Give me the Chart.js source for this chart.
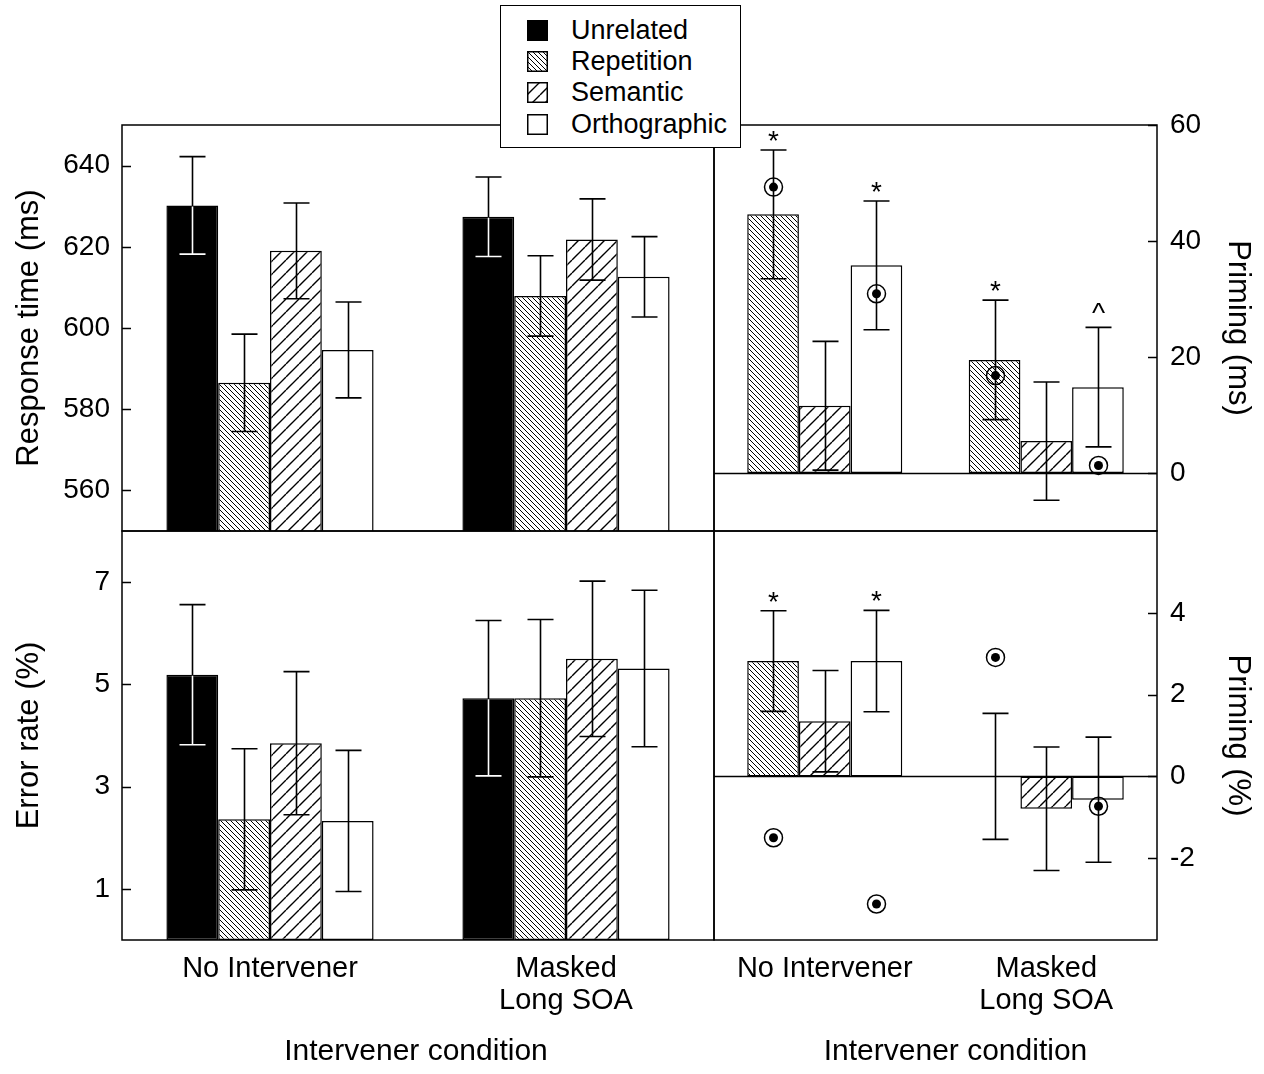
<!DOCTYPE html>
<html>
<head>
<meta charset="utf-8">
<script src="https://cdn.jsdelivr.net/npm/chart.js@4.4.1/dist/chart.umd.min.js"></script>
<style>
  body { margin: 0; background: #fff; }
  #wrap { position: relative; width: 1264px; height: 1074px; }
  #wrap > canvas { position: absolute; left: 0; top: 0; }
  #legend {
    position: absolute; left: 500px; top: 5px; width: 241px; height: 143px;
    box-sizing: border-box; border: 1.5px solid #000; background: #fff; z-index: 5;
    font: 27px "Liberation Sans", Arial, sans-serif; color: #000;
  }
  .row { position: absolute; left: 26px; height: 30px; line-height: 30px; white-space: nowrap; }
  .row canvas { position: absolute; left: 0; top: 5px; }
  .row span { position: absolute; left: 44px; top: 0; }
</style>
</head>
<body>
<div id="wrap">
  <canvas id="rt" width="1264" height="1074"></canvas>
  <canvas id="primMs" width="1264" height="1074"></canvas>
  <canvas id="err" width="1264" height="1074"></canvas>
  <canvas id="primPct" width="1264" height="1074"></canvas>
  <div id="legend"></div>
</div>
<script>
// ---- data ----
const groups = ["No Intervener", ["Masked", "Long SOA"]];
const conditions = ["Unrelated", "Repetition", "Semantic", "Orthographic"];

// response time (ms), top left
const rtUnrelated = [630.2, 627.4];
const rtRepetition = [586.5, 607.9];
const rtSemantic = [619.0, 621.8];
const rtOrthographic = [594.6, 612.6];
const rtErrUnrelated = [12.0, 9.8];
const rtErrRepetition = [12.0, 9.9];
const rtErrSemantic = [11.8, 10.0];
const rtErrOrthographic = [11.8, 9.9];
const rtTicks = [560, 580, 600, 620, 640];

// priming (ms), top right
const pmRepetition = [44.6, 19.5];
const pmSemantic = [11.6, 5.5];
const pmOrthographic = [35.8, 14.8];
const pmErrRepetition = [11.1, 10.3];
const pmErrSemantic = [11.1, 10.2];
const pmErrOrthographic = [11.1, 10.3];
const pmDotRepetition = [49.3, 16.8];
const pmDotOrthographic = [30.9, 1.3];
const pmSigRepetition = ["*", "*"];
const pmSigOrthographic = ["*", "^"];
const pmTicks = [0, 20, 40, 60];

// error rate (%), bottom left
const erUnrelated = [5.19, 4.73];
const erRepetition = [2.36, 4.73];
const erSemantic = [3.85, 5.50];
const erOrthographic = [2.33, 5.31];
const erErrUnrelated = [1.37, 1.52];
const erErrRepetition = [1.38, 1.54];
const erErrSemantic = [1.40, 1.52];
const erErrOrthographic = [1.38, 1.53];
const erTicks = [1, 3, 5, 7];

// priming (%), bottom right
const ppRepetition = [2.82, 0];
const ppSemantic = [1.35, -0.79];
const ppOrthographic = [2.82, -0.57];
const ppErrRepetition = [1.23, 1.54];
const ppErrSemantic = [1.24, 1.51];
const ppErrOrthographic = [1.24, 1.53];
const ppDotRepetition = [-1.50, 2.91];
const ppDotOrthographic = [-3.12, -0.73];
const ppSigRepetition = ["*", ""];
const ppSigOrthographic = ["*", ""];
const ppTicks = [-2, 0, 2, 4];

const FONT = '"Liberation Sans", Arial, sans-serif';
Chart.defaults.font.family = FONT;
Chart.defaults.color = "#000";

// ---- hatch fills ----
function hatch(w, h, dir, lw) {
    const c = document.createElement("canvas");
    c.width = w;
    c.height = h;
    const g = c.getContext("2d");
    g.fillStyle = "#fff";
    g.fillRect(0, 0, w, h);
    g.strokeStyle = "#000";
    g.lineWidth = lw;
    g.beginPath();
    for (let k = -1; k <= 1; k++) {
        const o = k * w;
        if (dir === "back") {
            g.moveTo(o, 0);
            g.lineTo(o + w, h);
        } else {
            g.moveTo(o, h);
            g.lineTo(o + w, 0);
        }
    }
    g.stroke();
    return g.createPattern(c, "repeat");
}

const fills = {
    Unrelated: "#000",
    Repetition: hatch(5, 5, "back", 1),
    Semantic: hatch(13, 13, "fwd", 1.4),
    Orthographic: "#fff"
};

// ---- error bars, markers, frame, inward ticks ----
const decor = {
    id: "decor",
    afterDatasetsDraw(chart, args, opts) {
        const ctx = chart.ctx;
        const area = chart.chartArea;
        const y = chart.scales.y;

        ctx.save();
        ctx.lineWidth = 1.5;
        ctx.strokeStyle = "#000";

        if (opts.zeroLine) {
            const y0 = Math.round(y.getPixelForValue(0)) + 0.5;
            ctx.beginPath();
            ctx.moveTo(area.left, y0);
            ctx.lineTo(area.right, y0);
            ctx.stroke();
        }

        chart.data.datasets.forEach((ds, i) => {
            const meta = chart.getDatasetMeta(i);
            meta.data.forEach((bar, j) => {
                const m = ds.data[j];
                const e = ds.errors[j];
                const x = Math.round(bar.x) + 0.5;
                const top = y.getPixelForValue(m + e);
                const bot = y.getPixelForValue(m - e);

                const drawBar = (color) => {
                    ctx.strokeStyle = color;
                    ctx.lineWidth = 1.6;
                    ctx.beginPath();
                    ctx.moveTo(x, top);
                    ctx.lineTo(x, bot);
                    ctx.moveTo(x - 13, top);
                    ctx.lineTo(x + 13, top);
                    ctx.moveTo(x - 13, bot);
                    ctx.lineTo(x + 13, bot);
                    ctx.stroke();
                };

                drawBar("#000");

                // error bar shows white where it crosses the black bar
                if (ds.label === "Unrelated") {
                    const p = bar.getProps(["x", "y", "base", "width"], true);
                    ctx.save();
                    ctx.beginPath();
                    ctx.rect(p.x - p.width / 2 + 1, Math.min(p.y, p.base) + 1,
                        p.width - 2, Math.abs(p.base - p.y) - 1);
                    ctx.clip();
                    drawBar("#fff");
                    ctx.restore();
                }

                if (ds.dots && ds.dots[j] !== null) {
                    const py = y.getPixelForValue(ds.dots[j]);
                    ctx.strokeStyle = "#000";
                    ctx.lineWidth = 1.5;
                    ctx.beginPath();
                    ctx.arc(x, py, 9, 0, Math.PI * 2);
                    ctx.stroke();
                    ctx.fillStyle = "#000";
                    ctx.beginPath();
                    ctx.arc(x, py, 4.5, 0, Math.PI * 2);
                    ctx.fill();
                }

                if (ds.sig && ds.sig[j]) {
                    ctx.fillStyle = "#000";
                    ctx.font = "28px " + FONT;
                    ctx.textAlign = "center";
                    ctx.textBaseline = "alphabetic";
                    ctx.fillText(ds.sig[j], x, top - (ds.sig[j] === "^" ? 5 : 0));
                }
            });
        });

        // panel frame
        ctx.strokeStyle = "#000";
        ctx.lineWidth = 1.5;
        ctx.strokeRect(area.left, area.top, area.right - area.left, area.bottom - area.top);

        // inward tick marks
        const ax = opts.side === "right" ? area.right : area.left;
        const dir = opts.side === "right" ? -1 : 1;
        ctx.beginPath();
        y.ticks.forEach(t => {
            const py = Math.round(y.getPixelForValue(t.value)) + 0.5;
            ctx.moveTo(ax, py);
            ctx.lineTo(ax + dir * 9, py);
        });
        ctx.stroke();

        // x axis title, placed a little right of the panel centre on the right side
        if (opts.xTitle) {
            ctx.fillStyle = "#000";
            ctx.font = "30px " + FONT;
            ctx.textAlign = "center";
            ctx.textBaseline = "middle";
            ctx.fillText(opts.xTitle, (area.left + area.right) / 2 + opts.xTitleShift, 1052);
        }

        ctx.restore();
    }
};

function bars(label, data, errors, dots, sig) {
    return {
        label: label,
        data: data,
        errors: errors,
        dots: dots || null,
        sig: sig || null,
        backgroundColor: fills[label],
        borderColor: "#000",
        borderWidth: 1.5,
        borderSkipped: false
    };
}

function panel(id, cfg) {
    const bottom = cfg.row === "bottom";
    const right = cfg.side === "right";

    const xAxis = bottom ? {
        grid: { display: false, drawTicks: false },
        border: { display: false },
        ticks: {
            font: { size: 29, lineHeight: 1.1 },
            padding: 13,
            maxRotation: 0,
            autoSkip: false
        },
        afterFit(s) { s.height = 134; }
    } : { display: false };

    return new Chart(document.getElementById(id), {
        type: "bar",
        data: { labels: groups, datasets: cfg.datasets },
        options: {
            responsive: false,
            animation: false,
            events: [],
            layout: {
                autoPadding: false,
                padding: {
                    left: right ? 714 : 0,
                    right: right ? 0 : 550,
                    top: bottom ? 531 : 125,
                    bottom: bottom ? 0 : 543
                }
            },
            datasets: { bar: { categoryPercentage: 0.7, barPercentage: 1 } },
            plugins: {
                legend: { display: false },
                tooltip: { enabled: false },
                decor: {
                    zeroLine: cfg.zeroLine,
                    side: cfg.side,
                    xTitle: bottom ? "Intervener condition" : null,
                    xTitleShift: right ? 20 : -2
                }
            },
            scales: {
                x: xAxis,
                y: {
                    position: cfg.side,
                    min: cfg.min,
                    max: cfg.max,
                    grid: { display: false, drawTicks: false },
                    border: { display: false },
                    afterBuildTicks(s) { s.ticks = cfg.ticks.map(v => ({ value: v })); },
                    ticks: { font: { size: 28 }, padding: right ? 13 : 12 },
                    title: {
                        display: true,
                        text: cfg.title,
                        font: { size: 31 },
                        padding: { top: right ? 8 : 11, bottom: 0 }
                    },
                    afterFit(s) { s.width = right ? 107 : 122; }
                }
            }
        },
        plugins: [decor]
    });
}

panel("rt", {
    row: "top", side: "left", min: 550, max: 650, ticks: rtTicks,
    title: "Response time (ms)",
    datasets: [
        bars("Unrelated", rtUnrelated, rtErrUnrelated),
        bars("Repetition", rtRepetition, rtErrRepetition),
        bars("Semantic", rtSemantic, rtErrSemantic),
        bars("Orthographic", rtOrthographic, rtErrOrthographic)
    ]
});

panel("primMs", {
    row: "top", side: "right", min: -10, max: 60, ticks: pmTicks, zeroLine: true,
    title: "Priming (ms)",
    datasets: [
        bars("Repetition", pmRepetition, pmErrRepetition, pmDotRepetition, pmSigRepetition),
        bars("Semantic", pmSemantic, pmErrSemantic),
        bars("Orthographic", pmOrthographic, pmErrOrthographic, pmDotOrthographic, pmSigOrthographic)
    ]
});

panel("err", {
    row: "bottom", side: "left", min: 0, max: 8, ticks: erTicks,
    title: "Error rate (%)",
    datasets: [
        bars("Unrelated", erUnrelated, erErrUnrelated),
        bars("Repetition", erRepetition, erErrRepetition),
        bars("Semantic", erSemantic, erErrSemantic),
        bars("Orthographic", erOrthographic, erErrOrthographic)
    ]
});

panel("primPct", {
    row: "bottom", side: "right", min: -4, max: 6, ticks: ppTicks, zeroLine: true,
    title: "Priming (%)",
    datasets: [
        bars("Repetition", ppRepetition, ppErrRepetition, ppDotRepetition, ppSigRepetition),
        bars("Semantic", ppSemantic, ppErrSemantic),
        bars("Orthographic", ppOrthographic, ppErrOrthographic, ppDotOrthographic, ppSigOrthographic)
    ]
});

// ---- legend ----
const legend = document.getElementById("legend");
const rowTops = [9, 40, 71, 103];

conditions.forEach((name, i) => {
    const row = document.createElement("div");
    row.className = "row";
    row.style.top = rowTops[i] + "px";

    const sw = document.createElement("canvas");
    sw.width = 21;
    sw.height = 21;
    const g = sw.getContext("2d");
    g.fillStyle = fills[name];
    g.fillRect(0, 0, 21, 21);
    g.strokeStyle = "#000";
    g.lineWidth = 1.5;
    g.strokeRect(0.75, 0.75, 19.5, 19.5);

    const txt = document.createElement("span");
    txt.textContent = name;

    row.appendChild(sw);
    row.appendChild(txt);
    legend.appendChild(row);
});
</script>
</body>
</html>
